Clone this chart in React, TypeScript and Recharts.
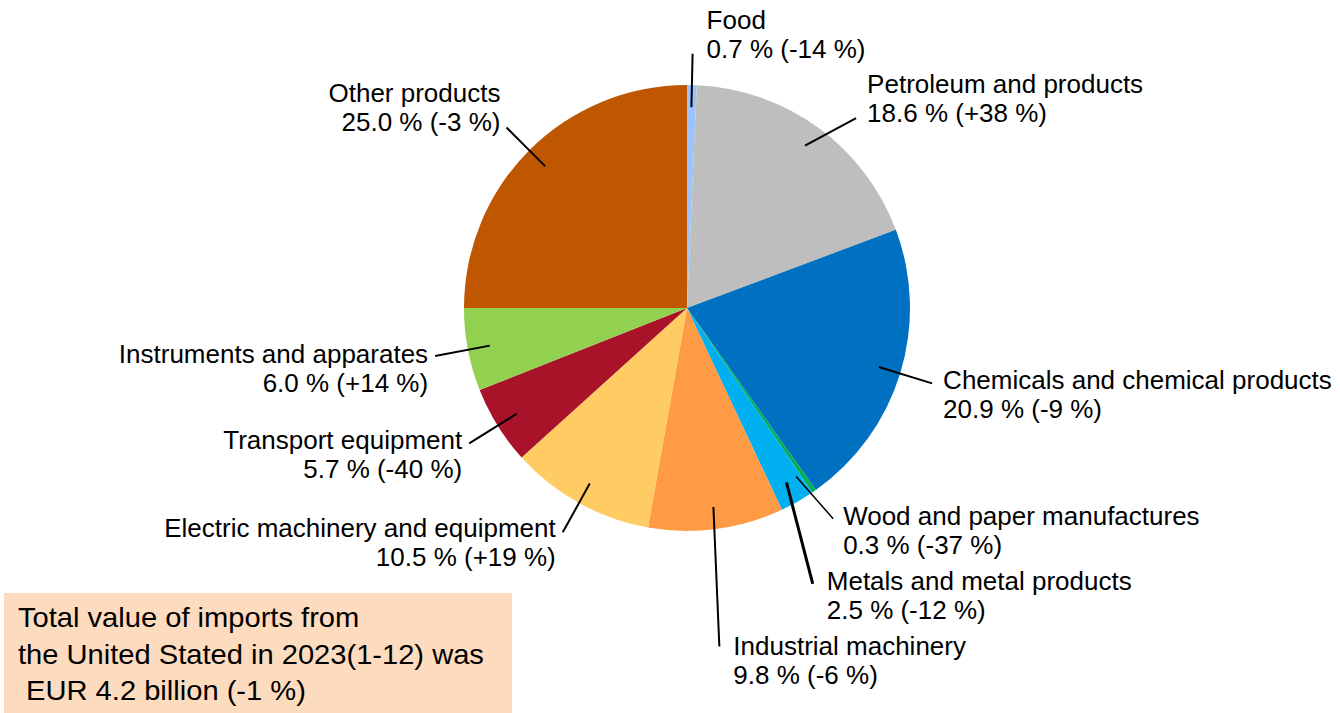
import React from 'react';
import { PieChart, Pie, Cell } from 'recharts';

const categories = [
  'Food',
  'Petroleum and products',
  'Chemicals and chemical products',
  'Wood and paper manufactures',
  'Metals and metal products',
  'Industrial machinery',
  'Electric machinery and equipment',
  'Transport equipment',
  'Instruments and apparates',
  'Other products',
];
const shares = [0.7, 18.6, 20.9, 0.3, 2.5, 9.8, 10.5, 5.7, 6.0, 25.0];
const changes = [-14, 38, -9, -37, -12, -6, 19, -40, 14, -3];
const colors = [
  '#9DC3FF',
  '#BDBEBD',
  '#0070C0',
  '#00B050',
  '#00B0F0',
  '#FF9A45',
  '#FFCC63',
  '#A8132A',
  '#92D050',
  '#BF5600',
];
const noteLines = [
  'Total value of imports from',
  'the United Stated in 2023(1-12) was',
  ' EUR 4.2 billion (-1 %)',
];

// label layout: angle shift / radius factor of the leader end, text offset
const labelLayout = [
  { startShift: 0, shift: 0, k: 1.14, dx: 14, dy: -25, w: 2 },
  { startShift: 0, shift: -5.7, k: 1.14, dx: 11, dy: -25, w: 2 },
  { startShift: 0, shift: 0, k: 1.15, dx: 11, dy: 6, w: 2 },
  { startShift: -1.8, shift: 0, k: 1.15, dx: 10, dy: 6, w: 1.5 },
  { startShift: 0, shift: -5.2, k: 1.36, dx: 14, dy: 6, w: 3 },
  { startShift: 0, shift: -2.1, k: 1.525, dx: 14, dy: 8, w: 2 },
  { startShift: 0, shift: 0, k: 1.15, dx: -7, dy: 5, w: 2 },
  { startShift: 0, shift: 0, k: 1.15, dx: -7, dy: 6, w: 2 },
  { startShift: 0, shift: 0, k: 1.15, dx: -7, dy: 7, w: 2 },
  { startShift: 0, shift: 0, k: 1.145, dx: -6, dy: -25, w: 2 },
];

const data = categories.map((name, i) => ({ name, value: shares[i] }));

const FONT = 'Liberation Sans, Arial, sans-serif';
const RAD = Math.PI / 180;
const polar = (cx: number, cy: number, r: number, a: number) => ({
  x: cx + r * Math.cos(-a * RAD),
  y: cy + r * Math.sin(-a * RAD),
});

const fmt = (i: number) =>
  `${shares[i].toFixed(1)} % (${changes[i] > 0 ? '+' : ''}${changes[i]} %)`;

const renderLabel = (props: any) => {
  const { cx, cy, midAngle, outerRadius, index } = props;
  const L = labelLayout[index];
  const s = polar(cx, cy, outerRadius * 0.9, midAngle + L.startShift);
  const e = polar(cx, cy, outerRadius * L.k, midAngle + L.shift);
  const tx = e.x + L.dx;
  const ty = e.y + L.dy;
  const anchor = L.dx > 0 ? 'start' : 'end';
  return (
    <g key={`lbl-${index}`}>
      <line x1={s.x} y1={s.y} x2={e.x} y2={e.y} stroke="#000" strokeWidth={L.w} />
      <g transform={`translate(${tx},${ty}) scale(1.04,1)`}>
        <text x={0} y={0} textAnchor={anchor} fontSize={25} fontFamily={FONT} fill="#000">
          <tspan x={0} dy={0}>{categories[index]}</tspan>
          <tspan x={0} dy={29}>{fmt(index)}</tspan>
        </text>
      </g>
    </g>
  );
};

export default function App() {
  return (
    <div style={{ position: 'absolute', left: 0, top: 0, width: 1340, height: 713, background: '#fff' }}>
      <div style={{ position: 'absolute', left: 4, top: 593, width: 508, height: 120, background: '#FDDBBE' }} />
      <svg
        width={508}
        height={120}
        style={{ position: 'absolute', left: 4, top: 593 }}
      >
        {noteLines.map((t, i) => (
          <g key={i} transform={`translate(14,${34 + i * 36.5}) scale(1.04,1)`}>
            <text x={0} y={0} fontSize={28} fontFamily={FONT} fill="#000" xmlSpace="preserve" style={{ whiteSpace: 'pre' }}>
              {t}
            </text>
          </g>
        ))}
      </svg>
      <div style={{ position: 'absolute', left: 0, top: 0 }}>
        <PieChart width={1340} height={713} margin={{ top: 0, right: 0, bottom: 0, left: 0 }}>
          <Pie
            data={data}
            dataKey="value"
            nameKey="name"
            cx={687}
            cy={308}
            outerRadius={223}
            startAngle={90}
            endAngle={-270}
            stroke="none"
            labelLine={false}
            label={renderLabel}
            isAnimationActive={false}
          >
            {data.map((d, i) => (
              <Cell key={d.name} fill={colors[i]} stroke="none" />
            ))}
          </Pie>
        </PieChart>
      </div>
    </div>
  );
}
